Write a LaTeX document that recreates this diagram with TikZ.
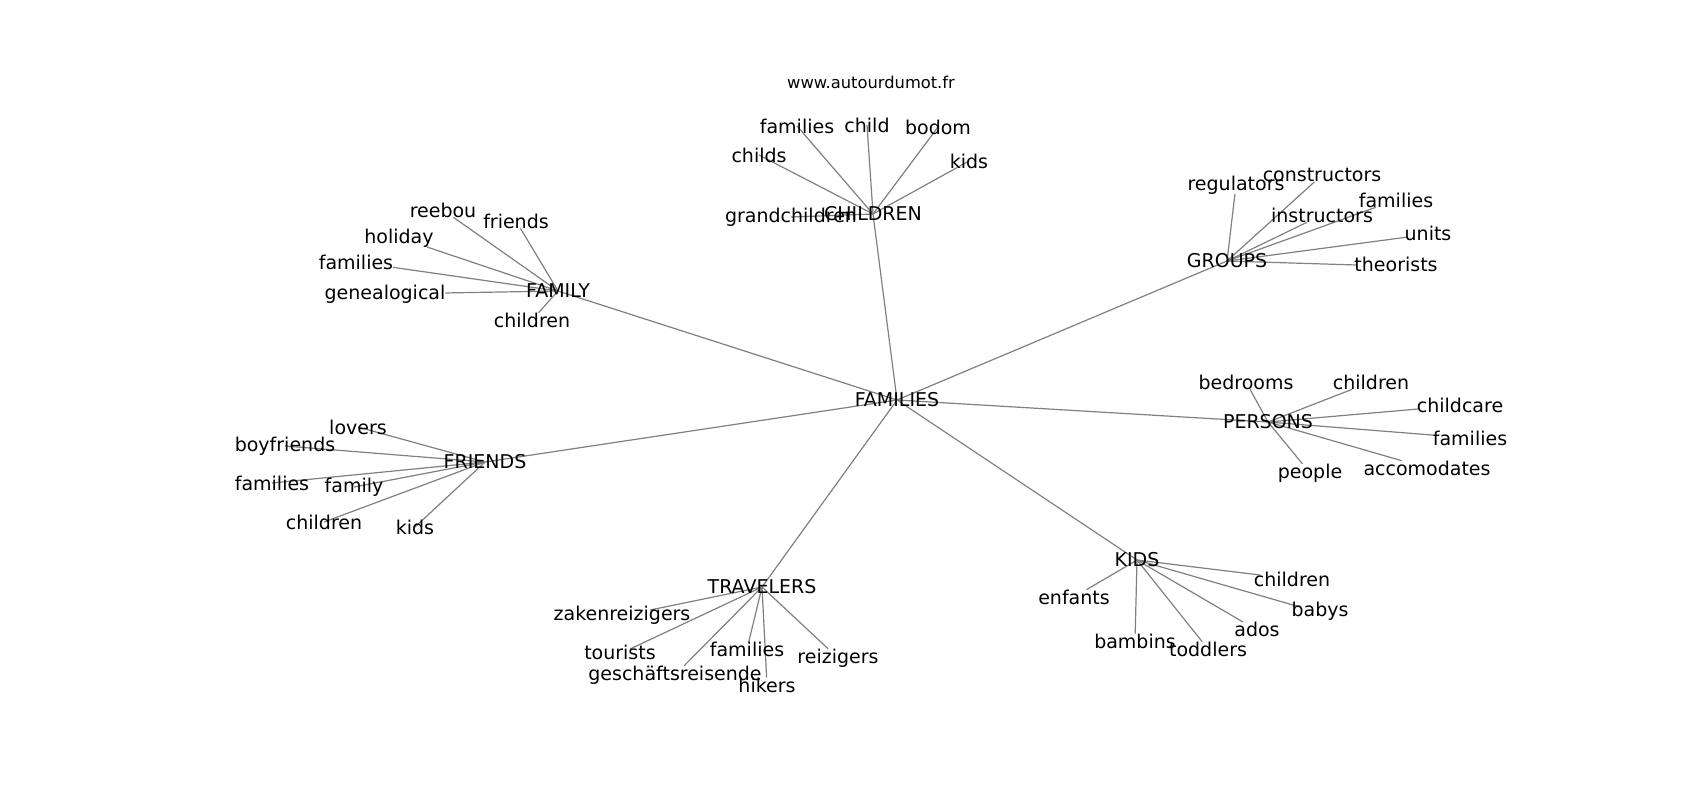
\documentclass[tikz,border=0pt]{standalone}
\usepackage{fontspec}
\setmainfont{DejaVu Sans}
\usetikzlibrary{backgrounds}
\tikzset{
  lbl/.style={inner sep=0pt, outer sep=0pt, yshift=-1pt, font=\fontsize{9.5}{11}\selectfont, text=black},
  ttl/.style={inner sep=0pt, outer sep=0pt, font=\fontsize{8.15}{10}\selectfont, text=black},
  edge/.style={draw=gray, line width=0.6pt}
}
\begin{document}
\begin{tikzpicture}[x=0.5pt,y=-0.5pt]
\useasboundingbox (0,0) rectangle (1700,800);
\node[ttl] (title) at (871,82) {www.autourdumot.fr};
% hubs
\node[lbl] (FAM) at (897,398) {FAMILIES};
\node[lbl] (CHI) at (873,212) {CHILDREN};
\node[lbl] (FMY) at (558,289) {FAMILY};
\node[lbl] (GRP) at (1227,259) {GROUPS};
\node[lbl] (PER) at (1268,420) {PERSONS};
\node[lbl] (FRI) at (485,460) {FRIENDS};
\node[lbl] (TRA) at (762,585) {TRAVELERS};
\node[lbl] (KID) at (1137,558) {KIDS};
% CHILDREN leaves
\node[lbl] (c1) at (797,124) {families};
\node[lbl] (c2) at (867,123) {child};
\node[lbl] (c3) at (938,125) {bodom};
\node[lbl] (c4) at (759,153) {childs};
\node[lbl] (c5) at (969,159) {kids};
\node[lbl] (c6) at (791,215) {grandchildren};
% FAMILY leaves
\node[lbl] (f1) at (443,208) {reebou};
\node[lbl] (f2) at (516,219) {friends};
\node[lbl] (f3) at (399,236) {holiday};
\coordinate (f3e) at (427,247);
\node[lbl] (f4) at (356,260) {families};
\node[lbl] (f5) at (385,292) {genealogical};
\node[lbl] (f6) at (532,318) {children};
% GROUPS leaves
\node[lbl] (g1) at (1236,183) {regulators};
\node[lbl] (g2) at (1322,173) {constructors};
\node[lbl] (g3) at (1396,198) {families};
\node[lbl] (g4) at (1322,213) {instructors};
\node[lbl] (g5) at (1428,231) {units};
\coordinate (g5e) at (1408,237);
\node[lbl] (g6) at (1396,262) {theorists};
\coordinate (g6e) at (1357,265);
% PERSONS leaves
\node[lbl] (p1) at (1246,380) {bedrooms};
\node[lbl] (p2) at (1371,380) {children};
\node[lbl] (p3) at (1460,403) {childcare};
\coordinate (p3e) at (1418,409);
\node[lbl] (p4) at (1470,436) {families};
\node[lbl] (p5) at (1310,471) {people};
\node[lbl] (p6) at (1427,466) {accomodates};
% FRIENDS leaves
\node[lbl] (r1) at (358,425) {lovers};
\node[lbl] (r2) at (285,444) {boyfriends};
\node[lbl] (r3) at (272,481) {families};
\node[lbl] (r4) at (354,485) {family};
\node[lbl] (r5) at (324,520) {children};
\node[lbl] (r6) at (415,525) {kids};
% TRAVELERS leaves
\node[lbl] (t1) at (622,613) {zakenreizigers};
\coordinate (t1e) at (650,610);
\node[lbl] (t2) at (620,650) {tourists};
\coordinate (t2e) at (630,649);
\node[lbl] (t3) at (747,647) {families};
\node[lbl] (t4) at (675,673) {geschäftsreisende};
\node[lbl] (t5) at (767,683) {hikers};
\node[lbl] (t6) at (838,656) {reizigers};
% KIDS leaves
\node[lbl] (k1) at (1074,595) {enfants};
\node[lbl] (k2) at (1292,577) {children};
\coordinate (k2e) at (1260,575);
\node[lbl] (k3) at (1320,609) {babys};
\coordinate (k3e) at (1300,607);
\node[lbl] (k4) at (1257,627) {ados};
\coordinate (k4e) at (1243,622);
\node[lbl] (k5) at (1135,639) {bambins};
\node[lbl] (k6) at (1208,647) {toddlers};
\begin{scope}[on background layer]
\fill[white] (0,0) rectangle (1700,800);
\foreach \h in {CHI,FMY,GRP,PER,FRI,TRA,KID} \draw[edge] (FAM.center) -- (\h.center);
\foreach \l in {c1,c2,c3,c4,c5,c6} \draw[edge] (CHI.center) -- (\l.center);
\foreach \l in {f1,f2,f3e,f4,f5,f6} \draw[edge] (FMY.center) -- (\l);
\foreach \l in {g1,g2,g3,g4,g5e,g6e} \draw[edge] (GRP.center) -- (\l);
\foreach \l in {p1,p2,p3e,p4,p5,p6} \draw[edge] (PER.center) -- (\l);
\foreach \l in {r1,r2,r3,r4,r5,r6} \draw[edge] (FRI.center) -- (\l.center);
\foreach \l in {t1e,t2e,t3,t4,t5,t6} \draw[edge] (TRA.center) -- (\l);
\foreach \l in {k1,k2e,k3e,k4e,k5,k6} \draw[edge] (KID.center) -- (\l);
\end{scope}
\end{tikzpicture}
\end{document}
